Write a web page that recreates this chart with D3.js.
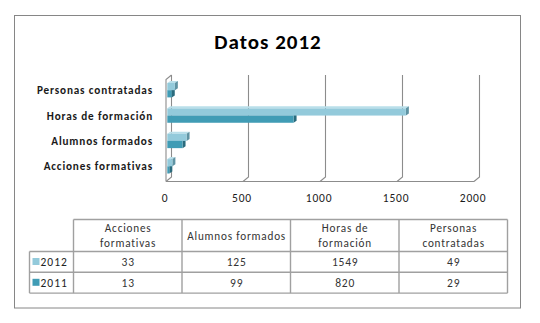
<!DOCTYPE html>
<html>
<head>
<meta charset="utf-8">
<script src="https://cdn.jsdelivr.net/npm/d3@7"></script>
<style>
  html, body { margin: 0; padding: 0; background: #fff; }
  svg { display: block; }
  text { font-family: Carlito, Calibri, Lato, "Open Sans", sans-serif; }
</style>
</head>
<body>
<svg id="chart" width="540" height="323"></svg>
<script>
// Data
const categories = ["Acciones formativas", "Alumnos formados", "Horas de formación", "Personas contratadas"];
const headerLines = [["Acciones", "formativas"], ["Alumnos formados"], ["Horas de", "formación"], ["Personas", "contratadas"]];
const seriesNames = ["2012", "2011"];
const values2012 = [33, 125, 1549, 49];
const values2011 = [13, 99, 820, 29];
const tickValues = [0, 500, 1000, 1500, 2000];

const colors = {
  "2012": { front: "#93CADB", top: "#B9DFEA", side: "#5F93A3" },
  "2011": { front: "#409CB5", top: "#2F7E93", side: "#2A6B7D" }
};

const svg = d3.select("#chart");

// Outer frame
svg.append("rect")
  .attr("x", 14.5).attr("y", 15.5).attr("width", 506).attr("height", 292.5)
  .attr("fill", "#fff").attr("stroke", "#868686").attr("stroke-width", 1);

// Title
svg.append("text")
  .attr("x", 268).attr("y", 49)
  .attr("text-anchor", "middle")
  .attr("font-size", 21).attr("font-weight", "bold").attr("fill", "#000")
  .attr("letter-spacing", 1)
  .text("Datos 2012");

// Scales
const x = d3.scaleLinear().domain([0, 2000]).range([166, 474]);
const y = d3.scaleBand().domain(categories.slice().reverse()).range([77.5, 179]).padding(0);
const depth = { dx: 5.5, dy: -4.5 };
const floorY = 181.5;
const wallTop = 75;

// Walls and gridlines (3D box)
const grid = svg.append("g").attr("stroke", "#8c8c8c").attr("fill", "none").attr("stroke-width", 1.1);
tickValues.forEach(t => {
  const xf = x(t), xb = x(t) + depth.dx;
  grid.append("path")
    .attr("d", `M${xb},${wallTop} L${xb},${floorY + depth.dy} L${xf},${floorY}`);
});
// left wall edge and floor front edge
grid.append("path").attr("d", `M${x(0)},${floorY} L${x(0)},${wallTop - depth.dy} L${x(0) + depth.dx},${wallTop}`);
grid.append("path").attr("d", `M${x(0)},${floorY} L${x(2000)},${floorY}`);

// Bars (3D)
const bh = 7.2, bdx = 3, bdy = -2, bOff = 1.3;
const bars = svg.append("g");
function drawBar(value, series, yTop) {
  const c = colors[series];
  const x0 = x(0) + bOff, x1 = x(value) + bOff;
  const g = bars.append("g");
  // top face
  g.append("path")
    .attr("d", `M${x0},${yTop} L${x1},${yTop} L${x1 + bdx},${yTop + bdy} L${x0 + bdx},${yTop + bdy} Z`)
    .attr("fill", c.top);
  // right face
  g.append("path")
    .attr("d", `M${x1},${yTop} L${x1 + bdx},${yTop + bdy} L${x1 + bdx},${yTop + bh + bdy} L${x1},${yTop + bh} Z`)
    .attr("fill", c.side);
  // front face
  g.append("rect")
    .attr("x", x0).attr("y", yTop).attr("width", x1 - x0).attr("height", bh)
    .attr("fill", c.front);
}
categories.forEach((cat, i) => {
  const cy = y(cat) + y.bandwidth() / 2;
  drawBar(values2011[i], "2011", cy);
  drawBar(values2012[i], "2012", cy - bh);
});

// Category labels
svg.append("g").selectAll("text")
  .data(categories)
  .join("text")
  .attr("x", 153)
  .attr("y", d => y(d) + y.bandwidth() / 2 + 4)
  .attr("text-anchor", "end")
  .attr("font-size", 11.2).attr("font-weight", "bold").attr("fill", "#1a1a1a")
  .attr("letter-spacing", 0.85)
  .text(d => d);

// Value axis labels
const axis = d3.axisBottom(x).tickValues(tickValues).tickFormat(d3.format("d")).tickSize(0).tickPadding(0);
const axisG = svg.append("g").attr("transform", "translate(-1.5,194)").call(axis);
axisG.select(".domain").remove();
axisG.selectAll("text")
  .attr("font-size", 11.5).attr("fill", "#1a1a1a")
  .attr("letter-spacing", 0.8)
  .attr("font-family", "Carlito, Calibri, Lato, sans-serif");

// Data table
const col = d3.scaleBand().domain(categories).range([73.5, 507.5]);
const rows = [
  { name: seriesNames[0], values: values2012 },
  { name: seriesNames[1], values: values2011 }
];
const tTop = 219.5, hBottom = 251.5, rowH = 20.8, legendLeft = 29.5;
const tbl = svg.append("g");
const lineStyle = s => s.attr("stroke", "#a0a0a0").attr("stroke-width", 1.4);

// header row borders
lineStyle(tbl.append("line").attr("x1", 73.5).attr("x2", 507.5).attr("y1", tTop).attr("y2", tTop));
// row horizontal lines
[hBottom, hBottom + rowH, hBottom + 2 * rowH].forEach(yy => {
  lineStyle(tbl.append("line").attr("x1", legendLeft).attr("x2", 507.5).attr("y1", yy).attr("y2", yy));
});
// vertical lines
lineStyle(tbl.append("line").attr("x1", legendLeft).attr("x2", legendLeft).attr("y1", hBottom).attr("y2", hBottom + 2 * rowH));
categories.forEach(cat => {
  lineStyle(tbl.append("line").attr("x1", col(cat)).attr("x2", col(cat)).attr("y1", tTop).attr("y2", hBottom + 2 * rowH));
});
lineStyle(tbl.append("line").attr("x1", 507.5).attr("x2", 507.5).attr("y1", tTop).attr("y2", hBottom + 2 * rowH));

// header text
categories.forEach((cat, i) => {
  const lines = headerLines[i];
  const cx = col(cat) + col.bandwidth() / 2 + 0.4;
  const mid = (tTop + hBottom) / 2;
  const lh = 15;
  const t = tbl.append("text")
    .attr("text-anchor", "middle")
    .attr("font-size", 11.2).attr("fill", "#333")
    .attr("letter-spacing", 0.8);
  lines.forEach((ln, j) => {
    t.append("tspan")
      .attr("x", cx)
      .attr("y", mid + 4 + (j - (lines.length - 1) / 2) * lh)
      .text(ln);
  });
});

// body rows
rows.forEach((r, ri) => {
  const rowTop = hBottom + ri * rowH;
  tbl.append("rect")
    .attr("x", 32.5).attr("y", rowTop + 6.5).attr("width", 7).attr("height", 7)
    .attr("fill", colors[r.name].front);
  tbl.append("text")
    .attr("x", 40.5).attr("y", rowTop + 14.5)
    .attr("font-size", 11.5).attr("fill", "#222")
    .attr("letter-spacing", 1)
    .text(r.name);
  r.values.forEach((v, i) => {
    tbl.append("text")
      .attr("x", col(categories[i]) + col.bandwidth() / 2 + 0.4)
      .attr("y", rowTop + 14.5)
      .attr("text-anchor", "middle")
      .attr("font-size", 11.5).attr("fill", "#333")
      .attr("letter-spacing", 0.8)
      .text(v);
  });
});
</script>
</body>
</html>
